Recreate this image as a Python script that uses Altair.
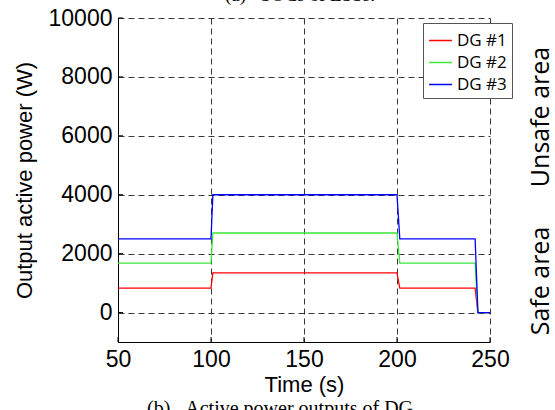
import altair as alt
import pandas as pd

# Active power output of the three diesel generators over time
time_s = [50, 100, 101, 200, 201.5, 242, 243.5, 250]
dg1_w = [830, 830, 1350, 1350, 830, 830, 0, 0]
dg2_w = [1680, 1680, 2700, 2700, 1680, 1680, 0, 0]
dg3_w = [2500, 2500, 4000, 4000, 2500, 2500, 0, 0]

series_names = ["DG #1", "DG #2", "DG #3"]
series_colors = ["#ff0000", "#3be83b", "#0000ff"]

x_ticks = [50, 100, 150, 200, 250]
y_ticks = [0, 2000, 4000, 6000, 8000, 10000]

rows = []
for name, vals in zip(series_names, [dg1_w, dg2_w, dg3_w]):
    for t, v in zip(time_s, vals):
        rows.append({"time": t, "power": v, "series": name})
df = pd.DataFrame(rows)

W, H = 372, 324
label_font = "Liberation Sans"
x_scale = alt.Scale(domain=[50, 250], nice=False, zero=False)
y_scale = alt.Scale(domain=[-1000, 10000], nice=False)
x_title = "Time (s)"
y_title = "Output active power (W)"

lines = alt.Chart(df).mark_line(strokeWidth=1.3, clip=True).encode(
    x=alt.X("time:Q", title=x_title, scale=x_scale,
            axis=alt.Axis(values=x_ticks, format="d", labelFlush=False)),
    y=alt.Y("power:Q", title=y_title, scale=y_scale,
            axis=alt.Axis(values=y_ticks, format="d", labelFlush=False)),
    color=alt.Color("series:N", title=None,
                    scale=alt.Scale(domain=series_names, range=series_colors),
                    legend=alt.Legend(orient="none", legendX=305, legendY=5,
                                      symbolType="stroke", symbolSize=520,
                                      symbolStrokeWidth=1.5,
                                      strokeColor="#555555", fillColor="white",
                                      padding=5, labelFont="Open Sans",
                                      labelFontSize=17, labelColor="black",
                                      rowPadding=1, labelOffset=4,
                                      labelLimit=200)),
)

# short inward tick marks on the left and bottom axes
y_tick_marks = alt.Chart(pd.DataFrame({"power": y_ticks})).mark_rule(
    color="black", strokeWidth=1).encode(
    y=alt.Y("power:Q", title=y_title, scale=y_scale),
    x=alt.value(0), x2=alt.value(5))
x_tick_marks = alt.Chart(pd.DataFrame({"time": x_ticks})).mark_rule(
    color="black", strokeWidth=1).encode(
    x=alt.X("time:Q", title=x_title, scale=x_scale),
    y=alt.value(H), y2=alt.value(H - 5))


def side_text(txt, x, y, angle, size, font, baseline="middle"):
    return alt.Chart(pd.DataFrame({"t": [txt]})).mark_text(
        angle=angle, fontSize=size, font=font, color="black",
        align="center", baseline=baseline,
    ).encode(x=alt.value(x), y=alt.value(y), text="t:N")


nb = "\u00a0"
unsafe = side_text("Unsafe area", 423, 99, 270, 25, "Open Sans")
safe = side_text("Safe area", 423, 263, 270, 25, "Open Sans")
top_caption = side_text("(a)" + nb * 3 + "SOCs of ESSs.", 182, -23, 0, 19,
                        "Liberation Serif")
bottom_caption = side_text("(b)" + nb * 3 + "Active power outputs of DG", 162,
                           381, 0, 20, "Liberation Serif", baseline="top")

chart = alt.layer(
    lines, y_tick_marks, x_tick_marks, unsafe, safe, top_caption,
    bottom_caption,
).properties(
    width=W, height=H,
    autosize=alt.AutoSizeParams(type="none"),
    padding={"left": 118, "top": 18, "right": 65, "bottom": 68},
).configure_view(stroke=None).configure_axis(
    grid=True, gridDash=[6, 4], gridColor="#222222", gridWidth=1,
    gridOpacity=0.9,
    domainColor="black", domainWidth=1, ticks=False,
    labelFont=label_font, labelFontSize=23, labelColor="black",
    labelPadding=6,
    titleFont=label_font, titleFontSize=22, titleFontWeight="normal",
    titleColor="black",
).configure_axisX(titlePadding=3).configure_axisY(titlePadding=12)

chart.save("out.html", embed_options={"renderer": "svg", "actions": False})
